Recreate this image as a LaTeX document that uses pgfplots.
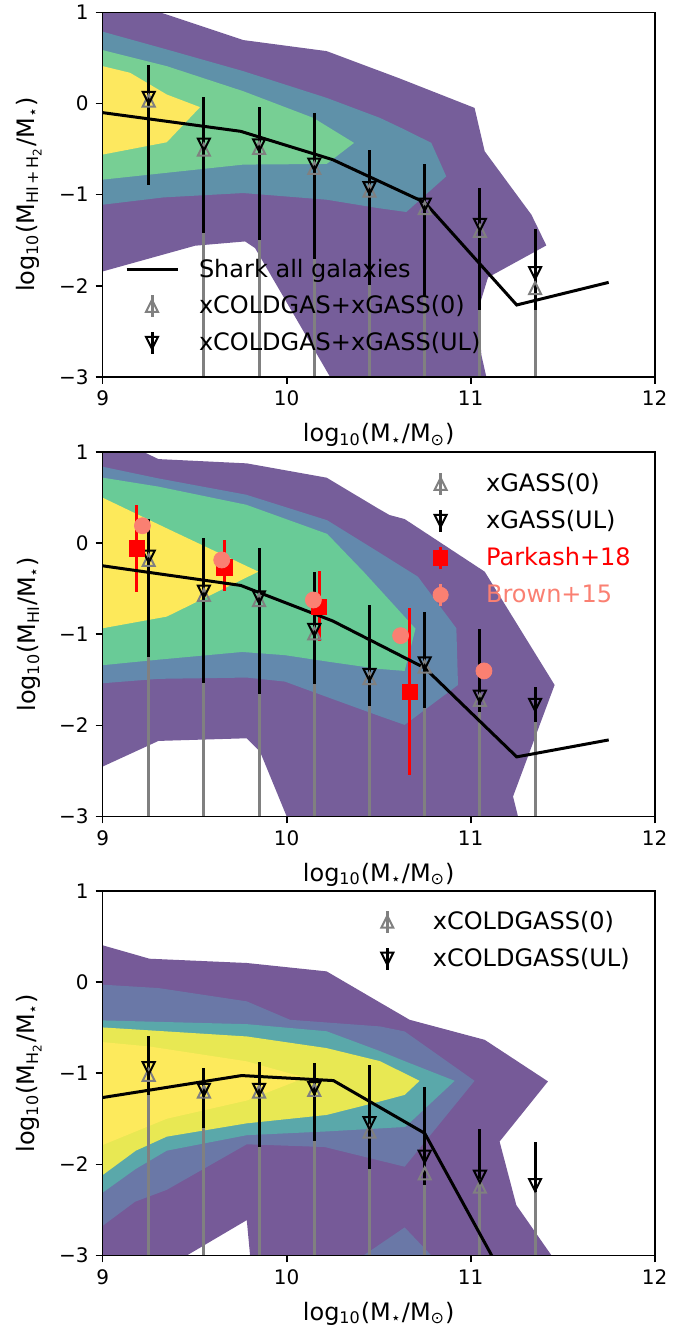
\documentclass[border=0pt]{standalone}
\usepackage{pgfplots}
\pgfplotsset{compat=1.18}
\usepackage{fontspec}
\setmainfont{DejaVu Sans}
\definecolor{pAa}{HTML}{765E9A}
\definecolor{pAb}{HTML}{5F91A9}
\definecolor{pAc}{HTML}{77CF94}
\definecolor{pAd}{HTML}{FDE85F}
\definecolor{pBa}{HTML}{765E9A}
\definecolor{pBb}{HTML}{6389AD}
\definecolor{pBc}{HTML}{69CB97}
\definecolor{pBd}{HTML}{FDE95A}
\definecolor{pCa}{HTML}{765A98}
\definecolor{pCb}{HTML}{6A78A7}
\definecolor{pCc}{HTML}{5AA8AA}
\definecolor{pCd}{HTML}{E8E853}
\definecolor{pCe}{HTML}{FDEA5C}
\definecolor{salmon}{HTML}{FA8072}
\pgfdeclareplotmark{mtriup}{%
  \pgfpathmoveto{\pgfqpoint{0pt}{\pgfplotmarksize}}%
  \pgfpathlineto{\pgfqpoint{-\pgfplotmarksize}{-\pgfplotmarksize}}%
  \pgfpathlineto{\pgfqpoint{\pgfplotmarksize}{-\pgfplotmarksize}}%
  \pgfpathclose\pgfusepathqstroke}
\pgfdeclareplotmark{mtridown}{%
  \pgfpathmoveto{\pgfqpoint{0pt}{-\pgfplotmarksize}}%
  \pgfpathlineto{\pgfqpoint{-\pgfplotmarksize}{\pgfplotmarksize}}%
  \pgfpathlineto{\pgfqpoint{\pgfplotmarksize}{\pgfplotmarksize}}%
  \pgfpathclose\pgfusepathqstroke}
\pgfplotsset{
  panel/.style={
    scale only axis, width=276pt, height=182.3pt,
    xmin=9, xmax=12, ymin=-3, ymax=1,
    xtick={9,10,11,12}, xticklabels={9,10,11,12},
    ytick={-3,-2,-1,0,1}, yticklabels={−3,−2,−1,0,1},
    tick align=outside, tick pos=left,
    major tick length=3.5pt,
    tick style={line width=0.8pt, black},
    axis line style={line width=0.8pt},
    ticklabel style={font=\fontsize{10}{12}\selectfont},
    label style={font=\fontsize{12}{14.4}\selectfont},
    xlabel={log\textsubscript{10}(M\textsubscript{⋆}/M\textsubscript{⊙})},
    xlabel style={at={(axis description cs:0.5,-0.159)}, anchor=center},
    ylabel style={at={(axis description cs:-0.1337,0.5)}, anchor=center},
    axis on top,
    legend style={draw=none, fill=none, inner sep=0pt, outer sep=0pt,
      font=\fontsize{12}{14.4}\selectfont, row sep=6pt, column sep=10pt,
      nodes={inner sep=0pt}},
    legend cell align=left,
  },
  cont/.style={draw=none, fill=#1, forget plot},
  grayeb/.style={forget plot, only marks, color=gray, mark=mtriup, mark size=3pt,
    mark options={draw=gray, fill=none, line width=1pt},
    error bars/y dir=both, error bars/y explicit, error bars/error mark=none,
    error bars/error bar style={line width=1.5pt, gray}},
  blackeb/.style={forget plot, only marks, color=black, mark=mtridown, mark size=3pt,
    mark options={draw=black, fill=none, line width=1pt},
    error bars/y dir=both, error bars/y explicit, error bars/error mark=none,
    error bars/error bar style={line width=1.5pt, black}},
  shark/.style={forget plot, black, line width=1.5pt, mark=none},
  legline/.style={legend image code/.code={\path[draw=none,fill=none] (0pt,-6pt) rectangle (25.5pt,6pt);
    \draw[black,line width=1.5pt] (0pt,0pt) -- (25.5pt,0pt);}},
  leggray/.style={legend image code/.code={\path[draw=none,fill=none] (0pt,-6pt) rectangle (25.5pt,6pt);
    \draw[gray,line width=1.5pt] (12.75pt,-5.5pt) -- (12.75pt,5.5pt);
    \path[draw=gray,fill=none,line width=1pt] plot[only marks, mark=mtriup, mark size=3pt] coordinates {(12.75pt,0pt)};}},
  legblack/.style={legend image code/.code={\path[draw=none,fill=none] (0pt,-6pt) rectangle (25.5pt,6pt);
    \draw[black,line width=1.5pt] (12.75pt,-5.5pt) -- (12.75pt,5.5pt);
    \path[draw=black,fill=none,line width=1pt] plot[only marks, mark=mtridown, mark size=3pt] coordinates {(12.75pt,0pt)};}},
  legred/.style={legend image code/.code={\path[draw=none,fill=none] (0pt,-6pt) rectangle (25.5pt,6pt);
    \draw[red,line width=1.5pt] (12.75pt,-5.5pt) -- (12.75pt,5.5pt);
    \path[draw=red,fill=red] plot[only marks, mark=square*, mark size=3.6pt] coordinates {(12.75pt,0pt)};}},
  legsalmon/.style={legend image code/.code={\path[draw=none,fill=none] (0pt,-6pt) rectangle (25.5pt,6pt);
    \draw[salmon,line width=1.5pt] (12.75pt,-5.5pt) -- (12.75pt,5.5pt);
    \path[draw=salmon,fill=salmon] plot[only marks, mark=*, mark size=3.8pt] coordinates {(12.75pt,0pt)};}},
}
\begin{document}
\begin{tikzpicture}
\useasboundingbox (0pt,0pt) rectangle (349.5pt,665.5pt);
%% ---------------- Panel 1 ----------------
\begin{axis}[panel, at={(51.35pt,477pt)}, anchor=south west,
  ylabel={log\textsubscript{10}(M\textsubscript{HI\,+\,H\textsubscript{2}}/M\textsubscript{⋆})},
  legend style={at={(axis description cs:0.0404,0.328)}, anchor=north west}]
\addlegendimage{legline}\addlegendentry{Shark all galaxies}
\addlegendimage{leggray}\addlegendentry{xCOLDGAS+xGASS(0)}
\addlegendimage{legblack}\addlegendentry{xCOLDGAS+xGASS(UL)}
\addplot[cont=pAa] coordinates {(8.9,1.2) (9.1,1.2) (9.312,1.0) (9.765,0.696) (10.217,0.575) (10.614,0.275) (11.021,-0.048) (11.076,-0.524) (11.33,-1.22) (11.411,-1.557) (11.094,-1.908) (11.04,-2.264) (11.058,-2.758) (11.085,-3.0) (11.09,-3.2) (10.3,-3.2) (10.236,-3.0) (9.828,-1.586) (9.774,-1.513) (9.502,-1.56) (9.0,-1.842) (8.9,-1.88)} -- cycle;
\addplot[cont=pAb] coordinates {(8.9,0.83) (9.0,0.788) (9.348,0.593) (9.764,0.355) (10.217,0.062) (10.507,-0.158) (10.641,-0.286) (10.786,-0.432) (10.867,-0.799) (10.65,-1.19) (10.496,-1.147) (10.217,-1.055) (9.764,-0.982) (9.33,-1.03) (9.0,-1.11) (8.9,-1.13)} -- cycle;
\addplot[cont=pAc] coordinates {(8.9,0.62) (9,0.586) (9.348,0.41) (9.764,0.135) (10.145,-0.158) (10.366,-0.432) (10.217,-0.663) (9.764,-0.67) (9,-0.835) (8.9,-0.85)} -- cycle;
\addplot[cont=pAd] coordinates {(8.9,0.45) (9,0.41) (9.149,0.337) (9.348,0.099) (9.529,-0.04) (9.348,-0.425) (9,-0.56) (8.9,-0.58)} -- cycle;
\addplot[grayeb] coordinates {
 (9.25,0.033) += (0,0.3) -= (0,0.8)
 (9.55,-0.505) += (0,0.3) -= (0,3)
 (9.85,-0.487) += (0,0.3) -= (0,3)
 (10.15,-0.707) += (0,0.3) -= (0,3)
 (10.45,-0.956) += (0,0.3) -= (0,3)
 (10.75,-1.147) += (0,0.3) -= (0,3)
 (11.05,-1.396) += (0,0.3) -= (0,3)
 (11.35,-2.026) += (0,0.3) -= (0,3)};
\addplot[blackeb] coordinates {
 (9.25,0.062) += (0,0.359) -= (0,0.959)
 (9.55,-0.451) += (0,0.521) -= (0,0.970)
 (9.85,-0.458) += (0,0.421) -= (0,1.037)
 (10.15,-0.670) += (0,0.567) -= (0,1.033)
 (10.45,-0.927) += (0,0.414) -= (0,1.062)
 (10.75,-1.11) += (0,0.451) -= (0,1.01)
 (11.05,-1.33) += (0,0.403) -= (0,0.934)
 (11.35,-1.86) += (0,0.483) -= (0,0.404)};
\addplot[shark] coordinates {(9,-0.1) (9.75,-0.305) (10.25,-0.616) (10.75,-1.085) (11.25,-2.21) (11.75,-1.962)};
\end{axis}
%% ---------------- Panel 2 ----------------
\begin{axis}[panel, at={(51.35pt,257.25pt)}, anchor=south west,
  ylabel={log\textsubscript{10}(M\textsubscript{HI}/M\textsubscript{⋆})},
  legend style={at={(axis description cs:0.566,0.9465)}, anchor=north west}]
\addlegendimage{leggray}\addlegendentry{xGASS(0)}
\addlegendimage{legblack}\addlegendentry{xGASS(UL)}
\addlegendimage{legred}\addlegendentry{\textcolor{red}{Parkash+18}}
\addlegendimage{legsalmon}\addlegendentry{\textcolor{salmon}{Brown+15}}
\addplot[cont=pBa] coordinates {(8.9,1.2) (9.15,1.2) (9.221,1.0) (9.303,0.921) (9.783,0.874) (10.217,0.717) (10.496,0.38) (10.559,0.307) (10.641,0.263) (11.076,-0.314) (11.456,-1.557) (11.23,-2.781) (11.257,-3.0) (11.26,-3.2) (9.95,-3.2) (10.0,-3.0) (9.855,-2.288) (9.783,-2.142) (9.303,-2.171) (9.0,-2.452) (8.9,-2.5)} -- cycle;
\addplot[cont=pBb] coordinates {(8.9,0.87) (9,0.837) (9.30,0.71) (9.78,0.53) (10.22,0.25) (10.496,-0.095) (10.713,-0.369) (10.922,-0.935) (10.931,-1.557) (10.641,-1.995) (10.507,-1.90) (10.22,-1.69) (9.99,-1.52) (9.783,-1.476) (9.303,-1.49) (9,-1.538) (8.9,-1.55)} -- cycle;
\addplot[cont=pBc] coordinates {(8.9,0.75) (9,0.717) (9.30,0.62) (9.78,0.42) (10.22,0.10) (10.42,-0.32) (10.70,-0.94) (10.641,-1.403) (10.496,-1.38) (10.22,-1.30) (9.99,-1.23) (9.758,-1.195) (9.30,-1.28) (9,-1.34) (8.9,-1.36)} -- cycle;
\addplot[cont=pBd] coordinates {(8.9,0.53) (9,0.497) (9.348,0.161) (9.846,-0.314) (9.348,-0.807) (9,-0.935) (8.9,-0.97)} -- cycle;
\addplot[grayeb] coordinates {
 (9.25,-0.186) += (0,0.15) -= (0,3)
 (9.55,-0.57) += (0,0.15) -= (0,3)
 (9.85,-0.625) += (0,0.15) -= (0,3)
 (10.15,-0.99) += (0,0.15) -= (0,3)
 (10.45,-1.483) += (0,0.15) -= (0,3)
 (10.75,-1.355) += (0,0.15) -= (0,3)
 (11.05,-1.72) += (0,0.15) -= (0,3)};
\addplot[forget plot, gray, line width=1.5pt] coordinates {(11.35,-1.9) (11.35,-3.3)};
\addplot[blackeb] coordinates {
 (9.25,-0.149) += (0,0.412) -= (0,1.097)
 (9.55,-0.533) += (0,0.591) -= (0,1.005)
 (9.85,-0.595) += (0,0.538) -= (0,1.064)
 (10.15,-0.954) += (0,0.634) -= (0,0.595)
 (10.45,-1.447) += (0,0.767) -= (0,0.336)
 (10.75,-1.319) += (0,0.566) -= (0,0.486)
 (11.05,-1.685) += (0,0.739) -= (0,0.164)
 (11.35,-1.776) += (0,0.201) -= (0,0.19)};
\addplot[forget plot, only marks, color=red, mark=square*, mark size=3.8pt,
  mark options={draw=red, fill=red},
  error bars/y dir=both, error bars/y explicit, error bars/error mark=none,
  error bars/error bar style={line width=1.5pt, red}] coordinates {
 (9.185,-0.058) += (0,0.474) -= (0,0.483)
 (9.661,-0.267) += (0,0.297) -= (0,0.259)
 (10.176,-0.698) += (0,0.391) -= (0,0.376)
 (10.668,-1.63) += (0,0.914) -= (0,0.913)};
\addplot[forget plot, only marks, color=salmon, mark=*, mark size=4pt,
  mark options={draw=salmon, fill=salmon}] coordinates {
 (9.216,0.19) (9.647,-0.186) (10.145,-0.625) (10.619,-1.016) (11.072,-1.403)};
\addplot[shark] coordinates {(9,-0.25) (9.75,-0.465) (10.25,-0.855) (10.75,-1.37) (11.25,-2.346) (11.75,-2.16)};
\end{axis}
%% ---------------- Panel 3 ----------------
\begin{axis}[panel, at={(51.35pt,37.75pt)}, anchor=south west,
  ylabel={log\textsubscript{10}(M\textsubscript{H\textsubscript{2}}/M\textsubscript{⋆})},
  legend style={at={(axis description cs:0.4694,0.9498)}, anchor=north west}]
\addlegendimage{leggray}\addlegendentry{xCOLDGASS(0)}
\addlegendimage{legblack}\addlegendentry{xCOLDGASS(UL)}
\addplot[cont=pCa] coordinates {(8.9,0.45) (9,0.403) (9.254,0.256) (9.783,0.209) (10.217,0.117) (10.496,-0.212) (10.668,-0.414) (11.076,-0.634) (11.42,-1.09) (11.157,-1.75) (11.248,-2.447) (11.438,-2.996) (11.5,-3.2) (9.81,-3.2) (9.801,-3.0) (9.783,-2.612) (9.457,-3.0) (9.45,-3.2) (8.9,-3.2)} -- cycle;
\addplot[cont=pCb] coordinates {(10.40,-3.2) (10.417,-3.0) (10.641,-2.692) (10.786,-3.0) (10.80,-3.2)} -- cycle;
\addplot[cont=pCb] coordinates {(8.9,0.0) (9,-0.029) (9.303,-0.066) (9.783,-0.212) (10.018,-0.414) (10.507,-0.487) (10.641,-0.542) (11.021,-1.084) (10.641,-2.026) (10.206,-1.81) (9.783,-1.78) (9.348,-2.28) (9.176,-2.41) (9,-2.674) (8.9,-2.75)} -- cycle;
\addplot[cont=pCc] coordinates {(8.9,-0.40) (9,-0.421) (9.783,-0.462) (10.217,-0.54) (10.507,-0.758) (10.641,-0.868) (10.913,-1.084) (10.644,-1.59) (10.206,-1.64) (9.783,-1.68) (9.348,-1.85) (9.18,-2.05) (9,-2.31) (8.9,-2.37)} -- cycle;
\addplot[cont=pCd] coordinates {(8.9,-0.47) (9,-0.498) (9.783,-0.597) (10.217,-0.725) (10.507,-0.868) (10.722,-1.084) (10.641,-1.238) (10.507,-1.31) (10.217,-1.458) (9.783,-1.55) (9.348,-1.696) (9.18,-1.85) (9,-2.117) (8.9,-2.18)} -- cycle;
\addplot[cont=pCe] coordinates {(8.9,-0.63) (9,-0.659) (9.254,-0.707) (9.783,-0.87) (10.1,-1.05) (9.783,-1.3) (9.348,-1.5) (9,-1.788) (8.9,-1.85)} -- cycle;
\addplot[grayeb] coordinates {
 (9.25,-1.018) += (0,0.15) -= (0,3)
 (9.55,-1.201) += (0,0.15) -= (0,3)
 (9.85,-1.201) += (0,0.15) -= (0,3)
 (10.15,-1.183) += (0,0.15) -= (0,3)
 (10.45,-1.641) += (0,0.15) -= (0,3)
 (10.75,-2.099) += (0,0.15) -= (0,3)
 (11.05,-2.245) += (0,0.15) -= (0,3)};
\addplot[forget plot, gray, line width=1.5pt] coordinates {(11.35,-2.3) (11.35,-3.3)};
\addplot[blackeb] coordinates {
 (9.25,-0.945) += (0,0.348) -= (0,0.293)
 (9.55,-1.183) += (0,0.238) -= (0,0.421)
 (9.85,-1.183) += (0,0.304) -= (0,0.623)
 (10.15,-1.165) += (0,0.275) -= (0,0.575)
 (10.45,-1.549) += (0,0.641) -= (0,0.502)
 (10.75,-1.916) += (0,0.762) -= (0,0.311)
 (11.05,-2.136) += (0,0.521) -= (0,0.036)
 (11.35,-2.227) += (0,0.469) -= (0,0.073)};
\addplot[shark] coordinates {(9,-1.267) (9.755,-1.026) (10.254,-1.081) (10.75,-1.659) (11.25,-3.5)};
\end{axis}
\end{tikzpicture}
\end{document}
